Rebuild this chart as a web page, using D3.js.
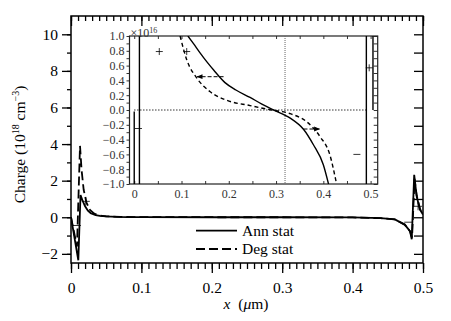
<!DOCTYPE html>
<html><head><meta charset="utf-8">
<script src="https://cdn.jsdelivr.net/npm/d3@7/dist/d3.min.js"></script>
<style>
body{margin:0;background:#fff;}
svg{display:block;font-family:"Liberation Serif","Times New Roman",serif;}
</style></head>
<body><svg id="c" width="451" height="321"></svg>
<script>
// ---- data (x in µm, charge in 1e18 cm^-3) ----
const annMain = [[0,0],[0.0104,-2.35],[0.0135,1.22],[0.016,0.95],[0.02,0.6],[0.024,0.36],[0.028,0.22],[0.035,0.12],[0.041,0.08],[0.05,0.05],[0.065,0.02],[0.08,0.01],[0.1,0.004],[0.2,0],[0.3,0],[0.4,-0.01],[0.44,-0.05],[0.46,-0.12],[0.474,-0.4],[0.4815,-0.76],[0.484,-1.2],[0.4875,2.32],[0.491,1.14],[0.4957,0.42],[0.5,0.15]];
const degMain = [[0,0],[0.0085,-1.6],[0.0128,3.9],[0.015,2.6],[0.018,1.5],[0.022,0.8],[0.027,0.4],[0.033,0.2],[0.04,0.1],[0.05,0.05],[0.07,0.02],[0.1,0.004],[0.3,0],[0.4,-0.01],[0.44,-0.05],[0.46,-0.12],[0.474,-0.4],[0.4815,-0.76],[0.4845,-1.1],[0.488,2.1],[0.491,1.2],[0.4957,0.45],[0.5,0.15]];
const mainPlus = [[0.021,0.87],[0.493,0.6]];
const mainMinus = [[0.0085,-0.45],[0.479,-0.27]];
// inset (x in µm, charge in 1e16 cm^-3)
const annInset = [[0.1135,1.0],[0.125,0.9],[0.14,0.766],[0.155,0.64],[0.168,0.54],[0.192,0.37],[0.215,0.27],[0.245,0.17],[0.27,0.08],[0.295,0.0],[0.33,-0.11],[0.358,-0.26],[0.379,-0.47],[0.40,-0.74],[0.411,-1.0]];
const degInset = [[0.097,1.0],[0.111,0.68],[0.1325,0.43],[0.16,0.25],[0.196,0.13],[0.245,0.06],[0.29,0.0],[0.33,-0.05],[0.365,-0.16],[0.393,-0.36],[0.414,-0.61],[0.428,-1.0]];
const insetEdges = [[[0.0,-0.02],[0.0,-1.0]],[[0.011,1.0],[0.011,-1.0]],[[0.491,1.0],[0.491,-1.0]],[[0.505,1.0],[0.505,0.0]]];
const insetArrows = [{y:0.45,x1:0.189,x2:0.133},{y:-0.257,x1:0.358,x2:0.392}];
const insetPlus = [[0.053,0.79],[0.111,0.79],[0.497,0.57]];
const insetMinus = [[0.009,-0.25],[0.471,-0.6]];
const insetZeroX = 0.319;
const xTicks = [0,0.1,0.2,0.3,0.4,0.5];
const yTicks = [-2,0,2,4,6,8,10];
const insetXTicks = [0,0.1,0.2,0.3,0.4,0.5];
const insetYTicks = [-1.0,-0.8,-0.6,-0.4,-0.2,0.0,0.2,0.4,0.6,0.8,1.0];
const legendItems = [{name:"Ann stat",dash:null},{name:"Deg stat",dash:"9,4"}];

const svg = d3.select("#c");
const L=71,R=423,T=16,B=263;
const x = d3.scaleLinear().domain([0,0.5]).range([L,R]);
const y = d3.scaleLinear().domain([-2.5,11]).range([B,T]);
const fmt = d=>String(d).replace("-","\u2212");

function axis(g, ax){ const s=svg.append("g").attr("transform",g).call(ax); s.select(".domain").remove(); s.selectAll("line").attr("stroke","#000").attr("stroke-width",1.3); s.selectAll("text").attr("font-family",'"Liberation Serif",serif').attr("fill","#000"); return s;}
const minorX = d3.range(0,0.5001,0.01).map(v=>+v.toFixed(2));
const minorY = d3.range(-2,11,1);
// bottom
axis(`translate(0,${B})`, d3.axisBottom(x).tickValues(minorX).tickSize(6).tickFormat(""));
axis(`translate(0,${B})`, d3.axisBottom(x).tickValues(xTicks).tickSize(10).tickPadding(9).tickFormat(d=>d===0?"0":d3.format(".1f")(d))).selectAll("text").attr("font-size",15.5);
// top
axis(`translate(0,${T})`, d3.axisBottom(x).tickValues(minorX).tickSize(5).tickFormat(""));
axis(`translate(0,${T})`, d3.axisBottom(x).tickValues(xTicks).tickSize(10).tickFormat(""));
// left
axis(`translate(${L},0)`, d3.axisLeft(y).tickValues(minorY).tickSize(4).tickFormat(""));
axis(`translate(${L},0)`, d3.axisLeft(y).tickValues(yTicks).tickSize(9).tickPadding(4).tickFormat(fmt)).selectAll("text").attr("font-size",15.5);
// right
axis(`translate(${R},0)`, d3.axisLeft(y).tickValues(minorY).tickSize(9).tickFormat(""));
svg.append("rect").attr("x",L).attr("y",T).attr("width",R-L).attr("height",B-T).attr("fill","none").attr("stroke","#000").attr("stroke-width",1.5);

svg.append("clipPath").attr("id","cm").append("rect").attr("x",L).attr("y",T).attr("width",R-L).attr("height",B-T);
const line = d3.line().x(d=>x(d[0])).y(d=>y(d[1]));
svg.append("path").datum(annMain).attr("d",line).attr("fill","none").attr("stroke","#000").attr("stroke-width",1.8).attr("clip-path","url(#cm)");
svg.append("path").datum(degMain).attr("d",line).attr("fill","none").attr("stroke","#000").attr("stroke-width",1.8).attr("stroke-dasharray","9,4").attr("clip-path","url(#cm)");
function plus(sx,sy,data,s){ data.forEach(d=>{svg.append("path").attr("d",`M${sx(d[0])-s},${sy(d[1])}h${2*s}M${sx(d[0])},${sy(d[1])-s}v${2*s}`).attr("stroke","#000").attr("stroke-width",0.8).attr("fill","none");});}
function minus(sx,sy,data,s){ data.forEach(d=>{svg.append("path").attr("d",`M${sx(d[0])-s},${sy(d[1])}h${2*s}`).attr("stroke","#000").attr("stroke-width",0.8).attr("fill","none");});}
plus(x,y,mainPlus,4); minus(x,y,mainMinus,4);

// legend
legendItems.forEach((it,i)=>{
  const ly = 230.7 + i*18.3;
  svg.append("line").attr("x1",196).attr("x2",237).attr("y1",ly).attr("y2",ly).attr("stroke","#000").attr("stroke-width",1.8).attr("stroke-dasharray",it.dash);
  svg.append("text").attr("x",242).attr("y",ly+5).attr("font-size",15.5).text(it.name);
});

// axis titles
svg.append("text").attr("x",246).attr("y",309).attr("text-anchor","middle").attr("font-size",15.5)
  .html('<tspan font-style="italic">x</tspan>\u00a0\u00a0(<tspan font-style="italic">μ</tspan>m)');
const yl = svg.append("text").attr("transform","translate(25,144.5) rotate(-90)").attr("text-anchor","middle").attr("font-size",15.5);
yl.append("tspan").text("Charge (10");
yl.append("tspan").attr("font-size",10).attr("dy",-6).text("18");
yl.append("tspan").attr("dy",6).text(" cm");
yl.append("tspan").attr("font-size",10).attr("dy",-6).text("\u22123");
yl.append("tspan").attr("dy",6).text(")");

// ---- inset ----
const IL=129.5, IR=377.7, IT=36, IB=184;
const ix = d3.scaleLinear().domain([-0.01,0.515]).range([IL,IR]);
const iy = d3.scaleLinear().domain([-1,1]).range([IB,IT]);
svg.append("rect").attr("x",IL).attr("y",IT).attr("width",IR-IL).attr("height",IB-IT).attr("fill","#fff");
const iMinorX = d3.range(0,0.5001,0.05).map(v=>+v.toFixed(2));
const iMinorY = d3.range(-1,1.0001,0.1).map(v=>+v.toFixed(1));
function iaxis(g, ax){ const s=svg.append("g").attr("transform",g).call(ax); s.select(".domain").remove(); s.selectAll("line").attr("stroke","#333").attr("stroke-width",1); s.selectAll("text").attr("font-family",'"Liberation Serif",serif').attr("fill","#333").attr("font-size",12); return s;}
iaxis(`translate(0,${IB})`, d3.axisTop(ix).tickValues(iMinorX).tickSize(3).tickFormat(""));
iaxis(`translate(0,${IB})`, d3.axisBottom(ix).tickValues(insetXTicks).tickSize(0).tickPadding(5).tickFormat(d=>d===0?"0":d3.format(".1f")(d)));
iaxis(`translate(0,${IT})`, d3.axisBottom(ix).tickValues(iMinorX).tickSize(3).tickFormat(""));
iaxis(`translate(${IL},0)`, d3.axisLeft(iy).tickValues(iMinorY).tickSize(3).tickPadding(2).tickFormat(d=>Math.round(d*10)%2===0?fmt(d3.format(".1f")(d)):""));
iaxis(`translate(${IR},0)`, d3.axisRight(iy).tickValues(iMinorY).tickSize(-4).tickFormat(""));
svg.append("rect").attr("x",IL).attr("y",IT).attr("width",IR-IL).attr("height",IB-IT).attr("fill","none").attr("stroke","#222").attr("stroke-width",1.2);
svg.append("clipPath").attr("id","ci").append("rect").attr("x",IL).attr("y",IT).attr("width",IR-IL).attr("height",IB-IT);
const ig = svg.append("g").attr("clip-path","url(#ci)");
// dotted zero lines
ig.append("line").attr("x1",ix(0)).attr("x2",ix(0.491)).attr("y1",iy(0)).attr("y2",iy(0)).attr("stroke","#000").attr("stroke-width",1).attr("stroke-dasharray","1.2,1.8");
ig.append("line").attr("x1",ix(insetZeroX)).attr("x2",ix(insetZeroX)).attr("y1",IT).attr("y2",IB).attr("stroke","#666").attr("stroke-width",1).attr("stroke-dasharray","1,1");
const iline = d3.line().x(d=>ix(d[0])).y(d=>iy(d[1])).curve(d3.curveMonotoneX);
const eline = d3.line().x(d=>ix(d[0])).y(d=>iy(d[1]));
ig.append("path").datum(annInset).attr("d",iline).attr("fill","none").attr("stroke","#000").attr("stroke-width",1.4);
ig.append("path").datum(degInset).attr("d",iline).attr("fill","none").attr("stroke","#000").attr("stroke-width",1.4).attr("stroke-dasharray","4,3");
insetEdges.forEach(e=>ig.append("path").datum(e).attr("d",eline).attr("fill","none").attr("stroke","#000").attr("stroke-width",1.4));
const defs = svg.append("defs");
defs.append("marker").attr("id","ah").attr("viewBox","0 0 10 10").attr("refX",9).attr("refY",5).attr("markerWidth",6).attr("markerHeight",6).attr("orient","auto")
  .append("path").attr("d","M0,1L10,5L0,9z").attr("fill","#000");
insetArrows.forEach(a=>ig.append("line").attr("x1",ix(a.x1)).attr("x2",ix(a.x2)).attr("y1",iy(a.y)).attr("y2",iy(a.y)).attr("stroke","#000").attr("stroke-width",1).attr("stroke-dasharray","4,2").attr("marker-end","url(#ah)"));
plus(ix,iy,insetPlus,3.5); minus(ix,iy,insetMinus,3.5);
const mult = svg.append("text").attr("x",IL+1).attr("y",IT+1).attr("font-size",12).attr("fill","#333");
mult.append("tspan").text("\u00d710");
mult.append("tspan").attr("font-size",8).attr("dy",-4).text("16");
</script></body></html>
